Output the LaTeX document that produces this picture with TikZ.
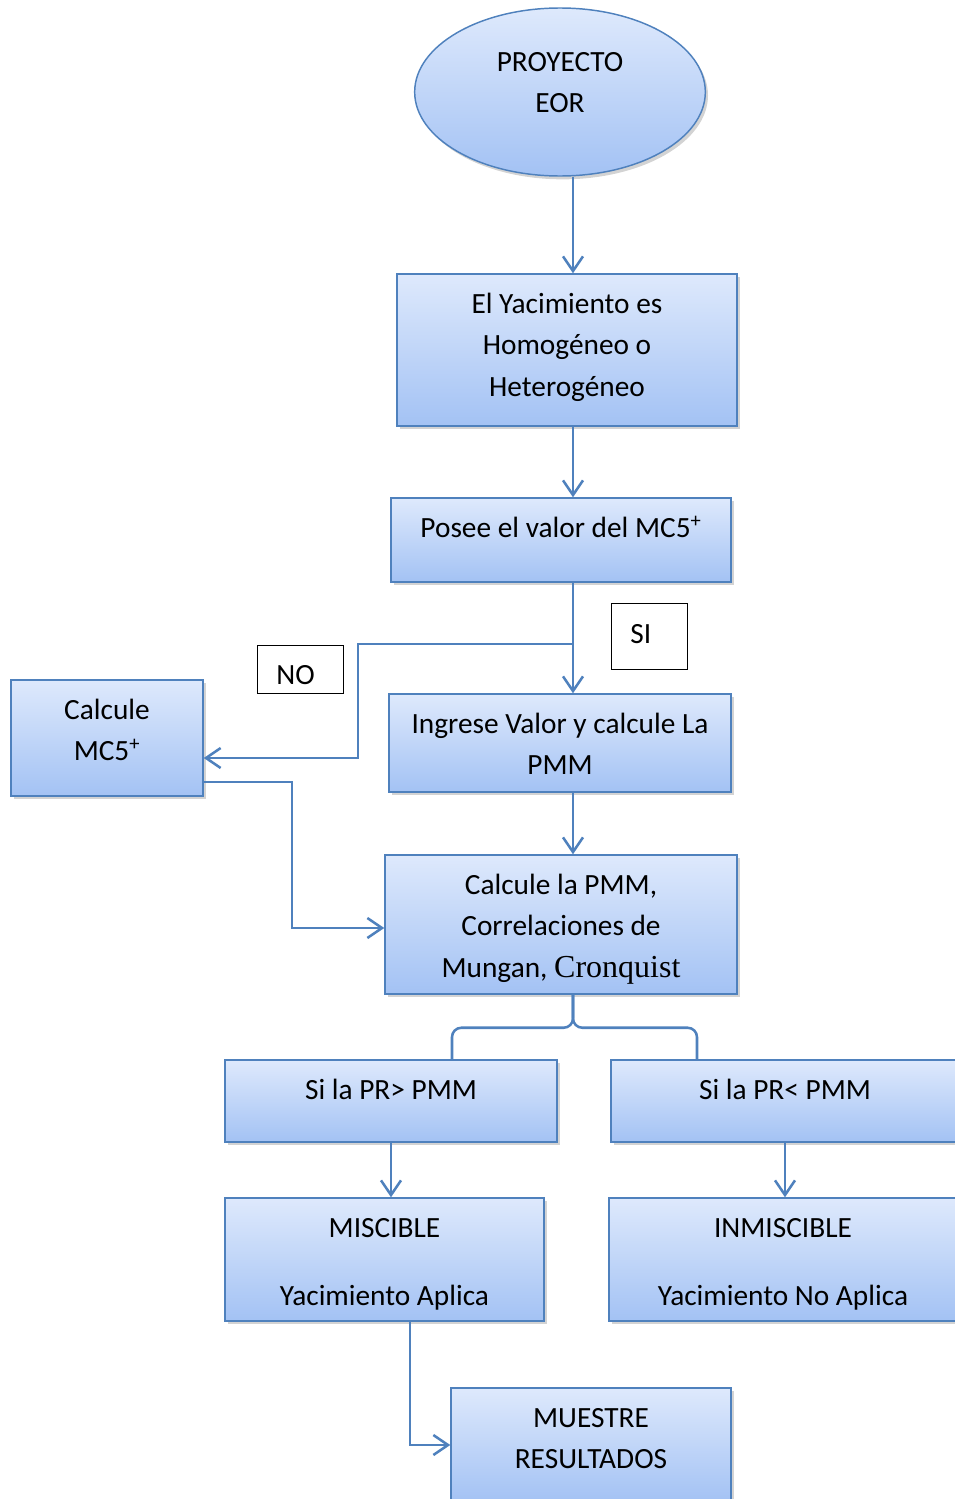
\documentclass[tikz,border=0pt]{standalone}
\usepackage{fontspec}
\setmainfont{Carlito}
\newfontfamily\timesfont{Liberation Serif}
\usetikzlibrary{shapes.geometric, arrows.meta, calc, shadows}
\definecolor{wordblue}{RGB}{79,129,189}
\definecolor{filltop}{RGB}{222,233,252}
\definecolor{fillbot}{RGB}{163,194,244}
\newcommand{\boxtext}[3]{\parbox[c][#2][t]{#1}{\centering\rule{0pt}{29.5pt}#3}}
\newcommand{\answertext}[3]{\parbox[c][#2][t]{#1}{\raggedright\rule{0pt}{29.5pt}\hspace{14.5pt}#3}}
\tikzset{every picture/.style={line width=0.75pt}}
\tikzset{
  flowbox/.style={draw=wordblue, line width=1.1pt, top color=filltop, bottom color=fillbot,
    inner sep=0pt, font=\fontsize{22}{31}\selectfont,
    drop shadow={shadow xshift=2pt, shadow yshift=-2.5pt, opacity=0.35}},
  answer/.style={draw=black, line width=0.75pt, fill=white, inner sep=0pt,
    font=\fontsize{22}{31}\selectfont},
  link/.style={draw=wordblue, line width=1.9pt},
  flow/.style={link, -{Straight Barb[length=11pt,width=15pt]}}
}

\begin{document}
\begin{tikzpicture}[x=0.75pt,y=0.75pt,yscale=-1,xscale=1]
\useasboundingbox (0,0) rectangle (954,1499);

%Shape: Ellipse [id:eor]
\node (eor) at (560,92) [flowbox, ellipse, minimum width=218pt, minimum height=126pt]
  {\parbox[c][80pt][t]{100pt}{\centering\rule{0pt}{24.5pt}PROYECTO\\EOR}};

%Shape: Rectangle [id:tipo]
\node (tipo) at (567,350) [flowbox] {\boxtext{255pt}{114pt}{El Yacimiento es\\Homogéneo o\\Heterogéneo}};
%Shape: Rectangle [id:mcfive]
\node (mcfive) at (561,540) [flowbox] {\boxtext{255pt}{63pt}{Posee el valor del MC5\textsuperscript{+}}};
%Shape: Rectangle [id:calcmc]
\node (calcmc) at (107,738) [flowbox] {\boxtext{144pt}{87pt}{Calcule\\MC5\textsuperscript{+}}};
%Shape: Rectangle [id:ingrese]
\node (ingrese) at (560,743) [flowbox] {\boxtext{256.5pt}{73.5pt}{Ingrese Valor y calcule La\\PMM}};
%Shape: Rectangle [id:pmm]
\node (pmm) at (561,924.5) [flowbox] {\boxtext{264pt}{104.25pt}{Calcule la PMM,\\Correlaciones de\\Mungan, {\timesfont\fontsize{24}{31}\selectfont Cronquist}}};
%Shape: Rectangle [id:mayor]
\node (mayor) at (391,1101) [flowbox] {\boxtext{249pt}{61.5pt}{Si la PR> PMM}};
%Shape: Rectangle [id:menor]
\node (menor) at (785,1101) [flowbox] {\boxtext{261pt}{61.5pt}{Si la PR< PMM}};
%Shape: Rectangle [id:misc]
\node (misc) at (384.5,1259.5) [flowbox] {\boxtext{239.25pt}{92.25pt}{MISCIBLE\\[20pt]Yacimiento Aplica}};
%Shape: Rectangle [id:inmisc]
\node (inmisc) at (783,1259.5) [flowbox] {\boxtext{261pt}{92.25pt}{INMISCIBLE\\[20pt]Yacimiento No Aplica}};
%Shape: Rectangle [id:result]
\node (result) at (591,1445) [flowbox] {\boxtext{210pt}{85.5pt}{MUESTRE\\RESULTADOS}};

% Text Node
\node (si) at (649,636.5) [answer] {\answertext{57pt}{49pt}{SI}};
% Text Node
\node (no) at (300,669) [answer] {\answertext{64.5pt}{36pt}{NO}};

\coordinate (spine) at (573,0);
\coordinate (split) at (573,644);
\coordinate (bend) at (358,758);
\coordinate (jog) at (292,0);

%Straight Lines
\draw [flow] (eor.south -| spine) -- (tipo.north -| spine);
\draw [flow] (tipo.south -| spine) -- (mcfive.north -| spine);
\draw [flow] (mcfive.south -| spine) -- (ingrese.north -| spine);
\draw [flow] (split) -| (bend) -- (calcmc.east |- bend);
\draw [flow] (ingrese.south -| spine) -- (pmm.north -| spine);
\draw [flow] ($(calcmc.east)+(0,44)$) -| ($(jog |- pmm.west)+(0,3.5)$) -- ($(pmm.west)+(0,3.5)$);

%Brace
\draw [link, rounded corners=7pt] (pmm.south -| spine) -- ++(0,33) -| ($(mayor.north)+(61,0)$);
\draw [link, rounded corners=7pt] (pmm.south -| spine) -- ++(0,33) -| ($(menor.north)+(-88,0)$);

\draw [flow] (mayor.south) -- (misc.north -| mayor.south);
\draw [flow] (menor.south) -- (inmisc.north -| menor.south);
\draw [flow] ($(misc.south)+(25.5,0)$) |- (result.west);

\end{tikzpicture}
\end{document}
